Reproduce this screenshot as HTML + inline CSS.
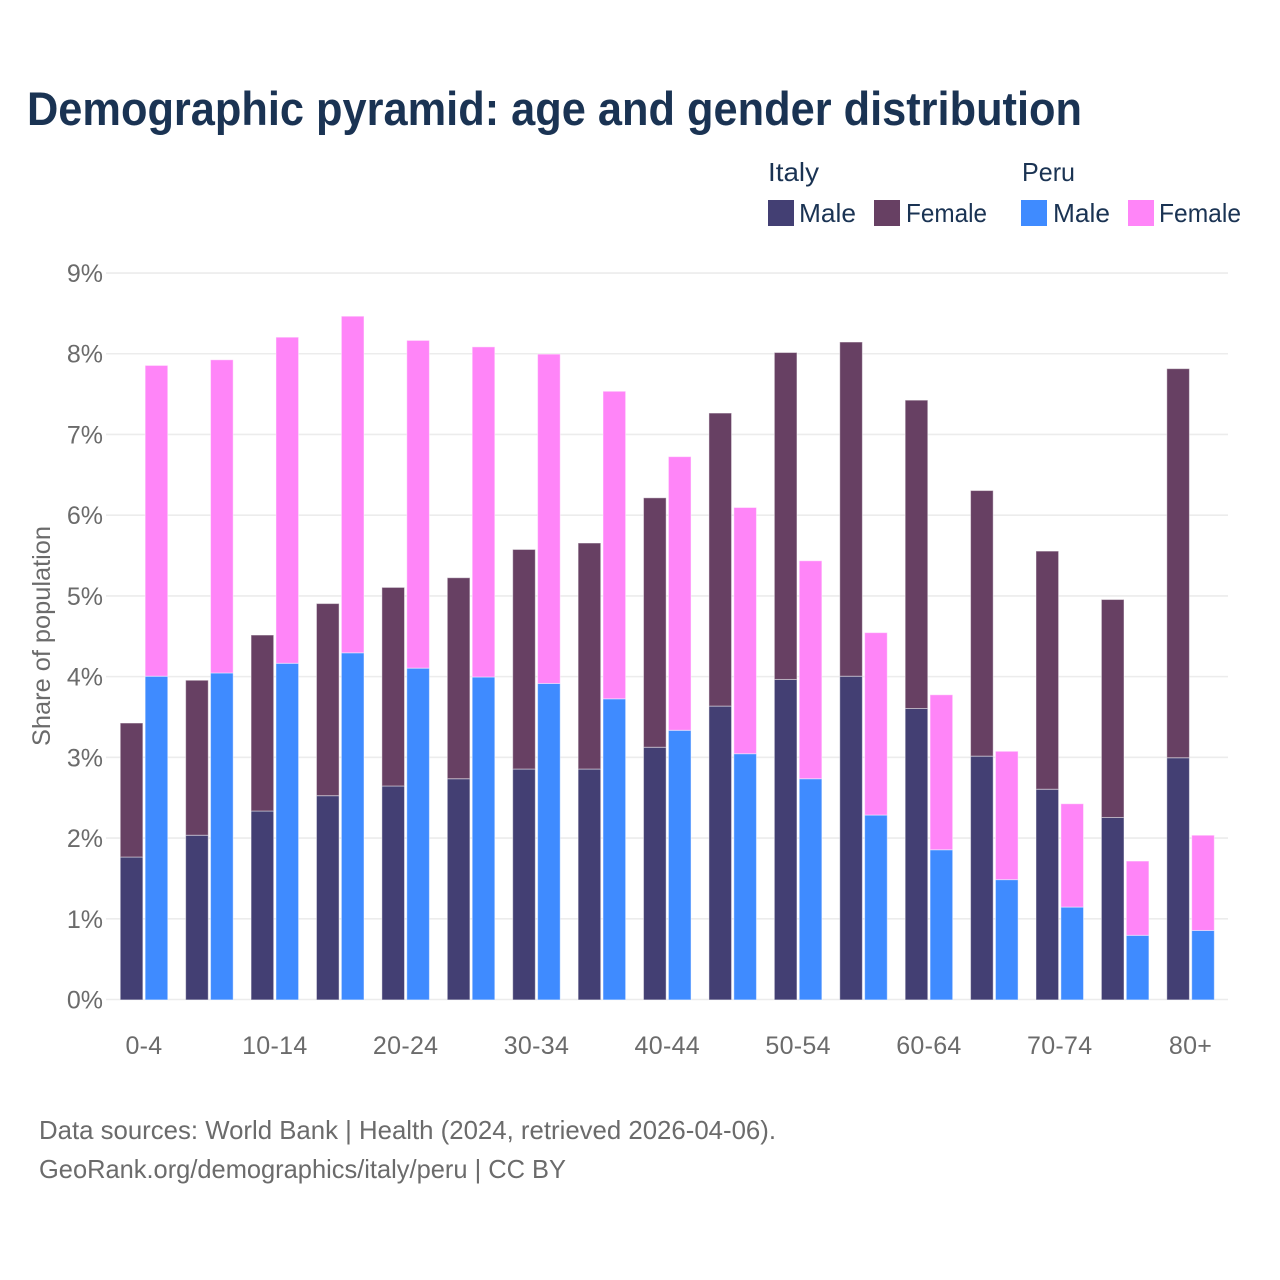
<!DOCTYPE html>
<html>
<head>
<meta charset="utf-8">
<title>Demographic pyramid</title>
<style>
html,body{margin:0;padding:0;background:#fff;width:1280px;height:1280px;overflow:hidden}
svg{display:block}
text{font-family:"Liberation Sans",sans-serif}
</style>
</head>
<body>
<svg id="chart" xmlns="http://www.w3.org/2000/svg" width="1280" height="1280" viewBox="0 0 1280 1280">
  <rect x="0" y="0" width="1280" height="1280" fill="#ffffff"/>
  <text x="27" y="125" font-size="47" font-weight="700" fill="#1a3353" textLength="1055" lengthAdjust="spacingAndGlyphs">Demographic pyramid: age and gender distribution</text>

  <g font-size="26" fill="#1a3353">
    <text x="768" y="181" textLength="51" lengthAdjust="spacingAndGlyphs">Italy</text>
    <text x="1022" y="181" textLength="53" lengthAdjust="spacingAndGlyphs">Peru</text>
    <rect x="768" y="200" width="26" height="26" fill="#433f73"/>
    <text x="799" y="222" textLength="57" lengthAdjust="spacingAndGlyphs">Male</text>
    <rect x="874" y="200" width="26" height="26" fill="#674063"/>
    <text x="906" y="222" textLength="81" lengthAdjust="spacingAndGlyphs">Female</text>
    <rect x="1021" y="200" width="26" height="26" fill="#3f8bff"/>
    <text x="1053" y="222" textLength="57" lengthAdjust="spacingAndGlyphs">Male</text>
    <rect x="1128" y="200" width="26" height="26" fill="#ff85f8"/>
    <text x="1159" y="222" textLength="82" lengthAdjust="spacingAndGlyphs">Female</text>
  </g>

  <g id="grid"></g>
  <g id="bars" transform="translate(0.4,0.4)"></g>
  <g id="yticks"></g>
  <g id="xticks"></g>

  <text transform="translate(50,636) rotate(-90)" text-anchor="middle" font-size="25" fill="#6b6b6b" textLength="220" lengthAdjust="spacingAndGlyphs">Share of population</text>

  <text x="39" y="1139" font-size="26" fill="#6b6b6b" textLength="737" lengthAdjust="spacingAndGlyphs">Data sources: World Bank | Health (2024, retrieved 2026-04-06).</text>
  <text x="39" y="1178" font-size="26" fill="#6b6b6b" textLength="527" lengthAdjust="spacingAndGlyphs">GeoRank.org/demographics/italy/peru | CC BY</text>
</svg>
<script>
const categories = ["0-4","5-9","10-14","15-19","20-24","25-29","30-34","35-39","40-44","45-49","50-54","55-59","60-64","65-69","70-74","75-79","80+"];
const italyMale = [1.77,2.04,2.34,2.53,2.65,2.74,2.86,2.86,3.13,3.64,3.97,4.01,3.61,3.02,2.61,2.26,3.00];
const italyFemale = [1.66,1.92,2.18,2.38,2.46,2.49,2.72,2.80,3.09,3.63,4.05,4.14,3.82,3.29,2.95,2.70,4.82];
const peruMale = [4.01,4.05,4.17,4.30,4.11,4.00,3.92,3.73,3.34,3.05,2.74,2.29,1.86,1.49,1.15,0.80,0.86];
const peruFemale = [3.85,3.88,4.04,4.17,4.06,4.09,4.08,3.81,3.39,3.05,2.70,2.26,1.92,1.59,1.28,0.92,1.18];
const yTicks = [0,1,2,3,4,5,6,7,8,9];

const NS = "http://www.w3.org/2000/svg";
const plotLeft = 106, plotRight = 1228, plotZero = 999.5, pxPerUnit = 80.72;
const firstCenter = 143.6, step = 65.41, barW = 22.6, barOffset = 1.15;
function yScale(v) { return plotZero - v * pxPerUnit; }
function xScale(i) { return firstCenter + i * step; }
function make(tag, parent) {
  const el = document.createElementNS(NS, tag);
  parent.appendChild(el);
  return el;
}
function drawBar(parent, x, base, value, fill, name) {
  const el = make("rect", parent);
  el.setAttribute("x", x);
  el.setAttribute("y", yScale(base + value));
  el.setAttribute("width", barW);
  el.setAttribute("height", value * pxPerUnit);
  el.setAttribute("fill", fill);
  el.setAttribute("stroke", "#ffffff");
  el.setAttribute("stroke-opacity", "0.45");
  el.setAttribute("stroke-width", "1");
  
  
}
const grid = document.getElementById("grid");
const yG = document.getElementById("yticks");
const xG = document.getElementById("xticks");
const bars = document.getElementById("bars");

yTicks.forEach(function (t) {
  const line = make("line", grid);
  line.setAttribute("x1", plotLeft);
  line.setAttribute("x2", plotRight);
  line.setAttribute("y1", yScale(t));
  line.setAttribute("y2", yScale(t));
  line.setAttribute("stroke", "#ececec");
  line.setAttribute("stroke-width", "1.6");
  
  
  const label = make("text", yG);
  label.setAttribute("x", 103);
  label.setAttribute("y", yScale(t) + 9);
  label.setAttribute("text-anchor", "end");
  label.setAttribute("font-size", "25");
  label.setAttribute("fill", "#6b6b6b");
  
  
  label.textContent = t + "%";
});

categories.forEach(function (c, i) {
  const cx = xScale(i);
  const left = cx - barOffset - barW;
  const right = cx + barOffset;
  drawBar(bars, left, 0, italyMale[i], "#433f73", "bar-italy-male-" + c);
  drawBar(bars, left, italyMale[i], italyFemale[i], "#674063", "bar-italy-female-" + c);
  drawBar(bars, right, 0, peruMale[i], "#3f8bff", "bar-peru-male-" + c);
  drawBar(bars, right, peruMale[i], peruFemale[i], "#ff85f8", "bar-peru-female-" + c);
  if (i % 2 === 0) {
    const label = make("text", xG);
    label.setAttribute("x", cx + 0.4);
    label.setAttribute("y", 1054);
    label.setAttribute("text-anchor", "middle");
    label.setAttribute("font-size", "25");
    label.setAttribute("letter-spacing", "0.3");
    label.setAttribute("fill", "#6b6b6b");
    
    
    label.textContent = c;
  }
});
</script>
</body>
</html>
